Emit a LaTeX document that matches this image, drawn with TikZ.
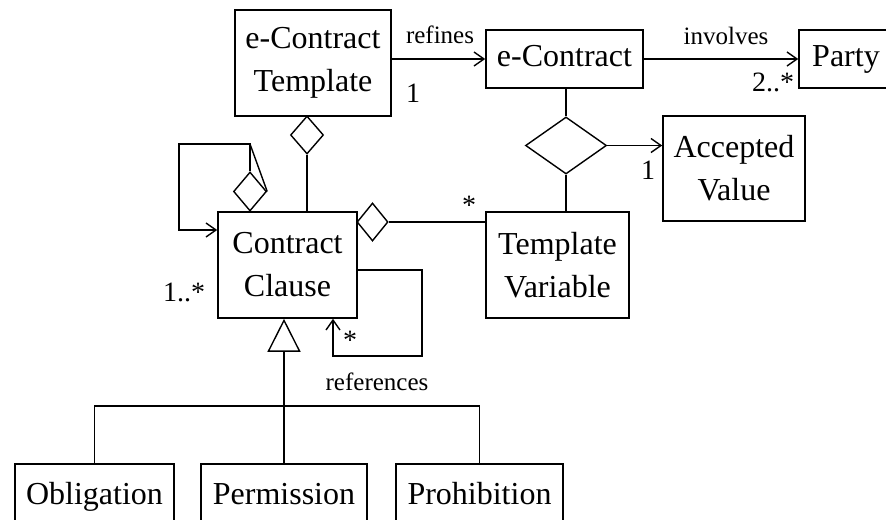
\documentclass[tikz,border=0pt]{standalone}
\usepackage{fontspec}
\setmainfont{Liberation Serif}
\usetikzlibrary{arrows.meta, shapes.geometric, calc}

\tikzset{
    cls/.style={draw, line width=0.8pt, align=center, inner sep=0pt,
        font=\fontsize{16}{21.5}\selectfont},
    oneline/.style={text height=11.5pt, text depth=3.5pt},
    agg/.style={draw, diamond, line width=0.7pt, inner sep=0pt},
    lbl/.style={inner sep=0pt, font=\fontsize{12.5}{15}\selectfont},
    mult/.style={inner sep=0pt, font=\fontsize{14}{16}\selectfont},
    arr/.style={-{Straight Barb[length=5pt,width=7pt]}},
    gen/.style={-{Triangle[open,length=16.5pt,width=16.5pt]}},
}

\begin{document}
\begin{tikzpicture}[x=0.5pt, y=-0.5pt, line width=0.7pt]
            \useasboundingbox (0,0) rectangle (886,519);
            \clip (0,0) rectangle (886,519);

            % Classes
            \node[cls, minimum width=78pt, minimum height=53pt] (tmpl) at (313,63) {e-Contract\\Template};
            \node[cls, oneline, minimum width=78.5pt, minimum height=29pt] (contract) at (564.5,59) {e-Contract};
            \node[cls, oneline, minimum width=47pt, minimum height=29pt] (party) at (846,59) {Party};
            \node[cls, minimum width=71pt, minimum height=52.5pt] (accval) at (734,168.5) {Accepted\\Value};
            \node[cls, minimum width=71.5pt, minimum height=53pt] (tvar) at (557.5,265) {Template\\Variable};
            \node[cls, minimum width=69.5pt, minimum height=53pt] (clause) at (287.5,265) {Contract\\Clause};
            \node[cls, oneline, minimum width=79.5pt, minimum height=32pt] (oblig) at (94.5,496) {Obligation};
            \node[cls, oneline, minimum width=83pt, minimum height=32pt] (perm) at (284,496) {Permission};
            \node[cls, oneline, minimum width=83.5pt, minimum height=32pt] (prohib) at (479.5,496) {Prohibition};

            % Diamonds
            \node[agg, minimum width=40.5pt, minimum height=28.5pt] (tern) at (566,145.5) {};
            \node[agg, minimum width=16.5pt, minimum height=19pt] (tagg) at (307,135) {};
            \node[agg, minimum width=15.5pt, minimum height=19pt] (vagg) at (372.5,222) {};
            \node[agg, minimum width=16.5pt, minimum height=19.5pt] (sagg) at (250,191.5) {};

            % Associations
            \draw[arr] (tmpl.east |- contract.west) -- (contract.west);
            \draw[arr] (contract) -- (party);
            \draw (contract.south -| tern.north) -- (tern.north);
            \draw (tern.south) -- (tern.south |- tvar.north);
            \draw[arr] (tern.east) -- (tern.east -| accval.west);
            \draw (tagg.south) -- (tagg.south |- clause.north);
            \draw (vagg.east) -- (vagg.east -| tvar.west);

            % Self loops
            \coordinate (sloop) at (179,144);
            \coordinate (sagtop) at (sagg.north |- sloop);
            \draw[arr] (sagg.north) |- (sloop) |- ($(clause.west)+(0,-35)$);
            \draw (sagg.east) -- (sagtop);
            \coordinate (refc) at (422,356);
            \draw[arr] ($(clause.east)+(0,5)$) -| (refc) -| ($(clause.south)+(45.5,0)$);

            % Generalization
            \coordinate (genj) at (perm.north |- 0,406);
            \draw[gen] (genj) -- (genj |- clause.south);
            \draw (oblig.north) -- (oblig.north |- genj) -- (prohib.north |- genj) -- (prohib.north);
            \draw (perm.north) -- (genj);

            % Labels
            \node[lbl] (refines) at (440,35) {refines};
            \node[mult] (mtmpl) at (413,93) {1};
            \node[lbl] (involves) at (726,36) {involves};
            \node[mult] (mparty) at (773,82) {2..*};
            \node[mult] (mval) at (648,170) {1};
            \node[mult] (mvar) at (469,205) {*};
            \node[mult] (mclause) at (184,292) {1..*};
            \node[mult] (mref) at (350,340) {*};
            \node[lbl] (references) at (377,382) {references};

        \end{tikzpicture}
\end{document}
